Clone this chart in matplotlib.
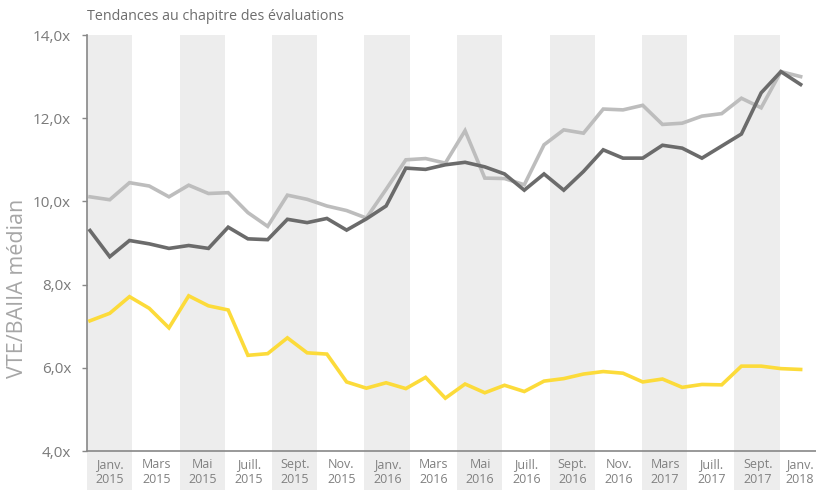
import matplotlib
matplotlib.use("Agg")
import matplotlib.pyplot as plt
from matplotlib.patches import Rectangle
from matplotlib.transforms import ScaledTranslation

plt.rcParams['font.family'] = ['Open Sans', 'DejaVu Sans']

# Monthly values, Jan 2015 .. Jan 2018 (37 months)
series_dark = [9.30, 8.67, 9.06, 8.98, 8.87, 8.94, 8.87, 9.38, 9.10, 9.08,
               9.57, 9.49, 9.59, 9.31, 9.58, 9.89, 10.80, 10.77, 10.88, 10.94,
               10.83, 10.66, 10.27, 10.66, 10.27, 10.72, 11.24, 11.04, 11.04, 11.35,
               11.28, 11.04, 11.33, 11.62, 12.61, 13.12, 12.81]
series_light = [10.11, 10.04, 10.45, 10.37, 10.11, 10.39, 10.19, 10.21, 9.73, 9.40,
                10.15, 10.05, 9.89, 9.78, 9.60, 10.29, 11.00, 11.03, 10.92, 11.70,
                10.56, 10.55, 10.40, 11.36, 11.72, 11.64, 12.22, 12.20, 12.31, 11.85,
                11.88, 12.05, 12.11, 12.48, 12.25, 13.12, 13.00]
series_yellow = [7.13, 7.31, 7.71, 7.43, 6.96, 7.73, 7.49, 7.39, 6.30, 6.34,
                 6.72, 6.36, 6.33, 5.66, 5.51, 5.64, 5.50, 5.77, 5.27, 5.61,
                 5.40, 5.58, 5.43, 5.68, 5.74, 5.85, 5.91, 5.87, 5.66, 5.73,
                 5.53, 5.60, 5.59, 6.04, 6.04, 5.98, 5.96]

band_labels = ["Janv.\n2015", "Mars\n2015", "Mai\n2015", "Juill.\n2015", "Sept.\n2015",
               "Nov.\n2015", "Janv.\n2016", "Mars\n2016", "Mai\n2016", "Juill.\n2016",
               "Sept.\n2016", "Nov.\n2016", "Mars\n2017", "Juill.\n2017", "Sept.\n2017",
               "Janv.\n2018"]

y_ticks = [4, 6, 8, 10, 12, 14]
y_ticklabels = ["4,0x", "6,0x", "8,0x", "10,0x", "12,0x", "14,0x"]

W, H = 816, 490
fig = plt.figure(figsize=(W / 100, H / 100), dpi=100)
ax_left, ax_right, ax_top, ax_bot = 87, 827, 35, 451
ax = fig.add_axes([ax_left / W, 1 - ax_bot / H, (ax_right - ax_left) / W, (ax_bot - ax_top) / H])

px_per_month = 19.74
x0_month = -(90 - ax_left) / px_per_month
x1_month = x0_month + (ax_right - ax_left) / px_per_month
ax.set_xlim(x0_month, x1_month)
ax.set_ylim(4, 14)

months = list(range(len(series_dark)))

# background bands
nb = len(band_labels)
bw = (x1_month - x0_month) / nb
ybot_axes = -(H - ax_bot) / (ax_bot - ax_top)
trans = ax.get_xaxis_transform()
for i in range(0, nb, 2):
    r = Rectangle((x0_month + i * bw, ybot_axes), bw * 0.975, 1 - ybot_axes,
                  transform=trans, facecolor='#ededed', edgecolor='none',
                  clip_on=False, zorder=0)
    ax.add_patch(r)

ax.plot(months, series_light, color='#bdbdbd', lw=2.6, zorder=3, solid_joinstyle='miter')
ax.plot(months, series_dark, color='#6b6b6b', lw=2.6, zorder=4, solid_joinstyle='miter')
ax.plot(months, series_yellow, color='#fcdb3a', lw=2.6, zorder=3, solid_joinstyle='miter')

centers = [x0_month + (i + 0.5) * bw for i in range(nb)]
ax.set_xticks(centers)
ax.set_xticklabels(band_labels, fontsize=9, color='#808080', linespacing=1.25)
ax.tick_params(axis='x', length=0, pad=5)
last = ax.get_xticklabels()[-1]
last.set_transform(last.get_transform() + ScaledTranslation(-4 / 100, 0, fig.dpi_scale_trans))

ax.set_yticks(y_ticks)
ax.set_yticklabels(y_ticklabels, fontsize=11, color='#7a7a7a')
ax.tick_params(axis='y', length=3.5, width=1, color='#888888', pad=8)

for s in ['top', 'right']:
    ax.spines[s].set_visible(False)
for s in ['left', 'bottom']:
    ax.spines[s].set_color('#888888')
    ax.spines[s].set_linewidth(1.2)
ax.set_facecolor('none')

fig.text(18 / W, 1 - 288 / H, "VTE/BAIIA médian", rotation=90, fontsize=15.5,
         color='#a6a6a6', ha='center', va='center')
fig.text(87 / W, 1 - 17 / H, "Tendances au chapitre des évaluations", fontsize=10.3,
         color='#6e6e6e', ha='left', va='center')

fig.savefig("out.png", dpi=100)
